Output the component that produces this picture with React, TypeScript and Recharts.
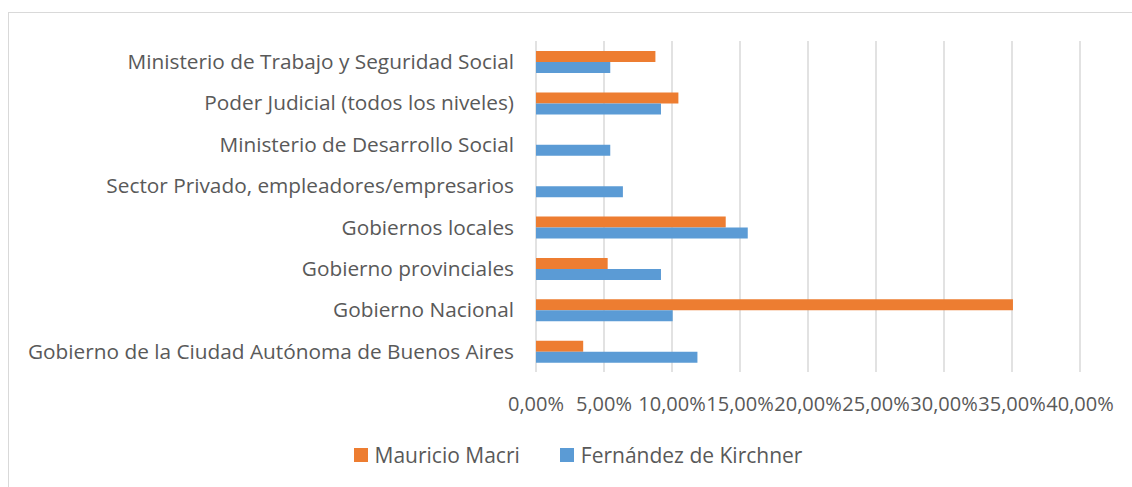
import { BarChart, Bar, XAxis, YAxis, CartesianGrid, Legend } from "recharts";

const categories = [
  "Ministerio de Trabajo y Seguridad Social",
  "Poder Judicial (todos los niveles)",
  "Ministerio de Desarrollo Social",
  "Sector Privado, empleadores/empresarios",
  "Gobiernos locales",
  "Gobierno provinciales",
  "Gobierno Nacional",
  "Gobierno de la Ciudad Autónoma de Buenos Aires",
];

// percentages
const macri = [8.78, 10.47, 0, 0, 13.95, 5.27, 35.07, 3.47];
const kirchner = [5.46, 9.19, 5.46, 6.39, 15.57, 9.19, 10.05, 11.87];

const seriesNames = ["Mauricio Macri", "Fernández de Kirchner"];
const xTicks = [0, 5, 10, 15, 20, 25, 30, 35, 40];

const FONT = "'Open Sans', sans-serif";
const TEXT = "#595959";

const data = categories.map((name, i) => ({
  name,
  macri: macri[i],
  kirchner: kirchner[i],
}));

const fmt = (v: number) => v.toFixed(2).replace(".", ",") + "%";

const renderLegend = (props: any) => {
  const items = [...(props.payload || [])].sort(
    (a: any, b: any) => seriesNames.indexOf(a.value) - seriesNames.indexOf(b.value)
  );
  return (
    <div
      style={{
        display: "flex",
        justifyContent: "center",
        gap: 40,
        fontFamily: FONT,
        fontSize: 21,
        color: TEXT,
      }}
    >
      {items.map((it: any) => (
        <div key={it.value} style={{ display: "flex", alignItems: "center" }}>
          <span
            style={{
              width: 14,
              height: 14,
              background: it.color,
              display: "inline-block",
              marginRight: 7,
            }}
          />
          <span>{it.value}</span>
        </div>
      ))}
    </div>
  );
};

export default function App() {
  return (
    <div
      style={{
        position: "absolute",
        left: 0,
        top: 0,
        width: 1132,
        height: 487,
        overflow: "hidden",
        background: "#fff",
      }}
    >
      <div
        style={{
          position: "absolute",
          left: 8,
          top: 12,
          width: 1300,
          height: 600,
          borderLeft: "1px solid #d9d9d9",
          borderTop: "1px solid #d9d9d9",
        }}
      />
      <div style={{ position: "absolute", left: 0, top: 0 }}>
        <BarChart
          width={1132}
          height={487}
          data={data}
          layout="vertical"
          margin={{ top: 41, right: 52, left: 0, bottom: 85 }}
          barSize={11}
          barGap={0}
        >
          <CartesianGrid horizontal={false} stroke="#d9d9d9" strokeWidth={1.5} />
          <XAxis
            type="number"
            domain={[0, 40]}
            ticks={xTicks}
            interval={0}
            tickFormatter={fmt}
            axisLine={false}
            tickLine={false}
            tickSize={0}
            tickMargin={25}
            height={30}
            tick={{ fill: TEXT, fontSize: 20, fontFamily: FONT }}
          />
          <YAxis
            type="category"
            dataKey="name"
            width={536}
            interval={0}
            axisLine={false}
            tickLine={false}
            tickSize={0}
            tickMargin={22}
            tick={{ fill: TEXT, fontSize: 20.8, fontFamily: FONT }}
          />
          <Legend
            layout="horizontal"
            verticalAlign="middle"
            align="center"
            wrapperStyle={{ top: 441, left: 22, width: 1112 }}
            content={renderLegend}
          />
          <Bar dataKey="macri" name={seriesNames[0]} fill="#ED7D31" isAnimationActive={false} />
          <Bar dataKey="kirchner" name={seriesNames[1]} fill="#5B9BD5" isAnimationActive={false} />
        </BarChart>
      </div>
    </div>
  );
}
